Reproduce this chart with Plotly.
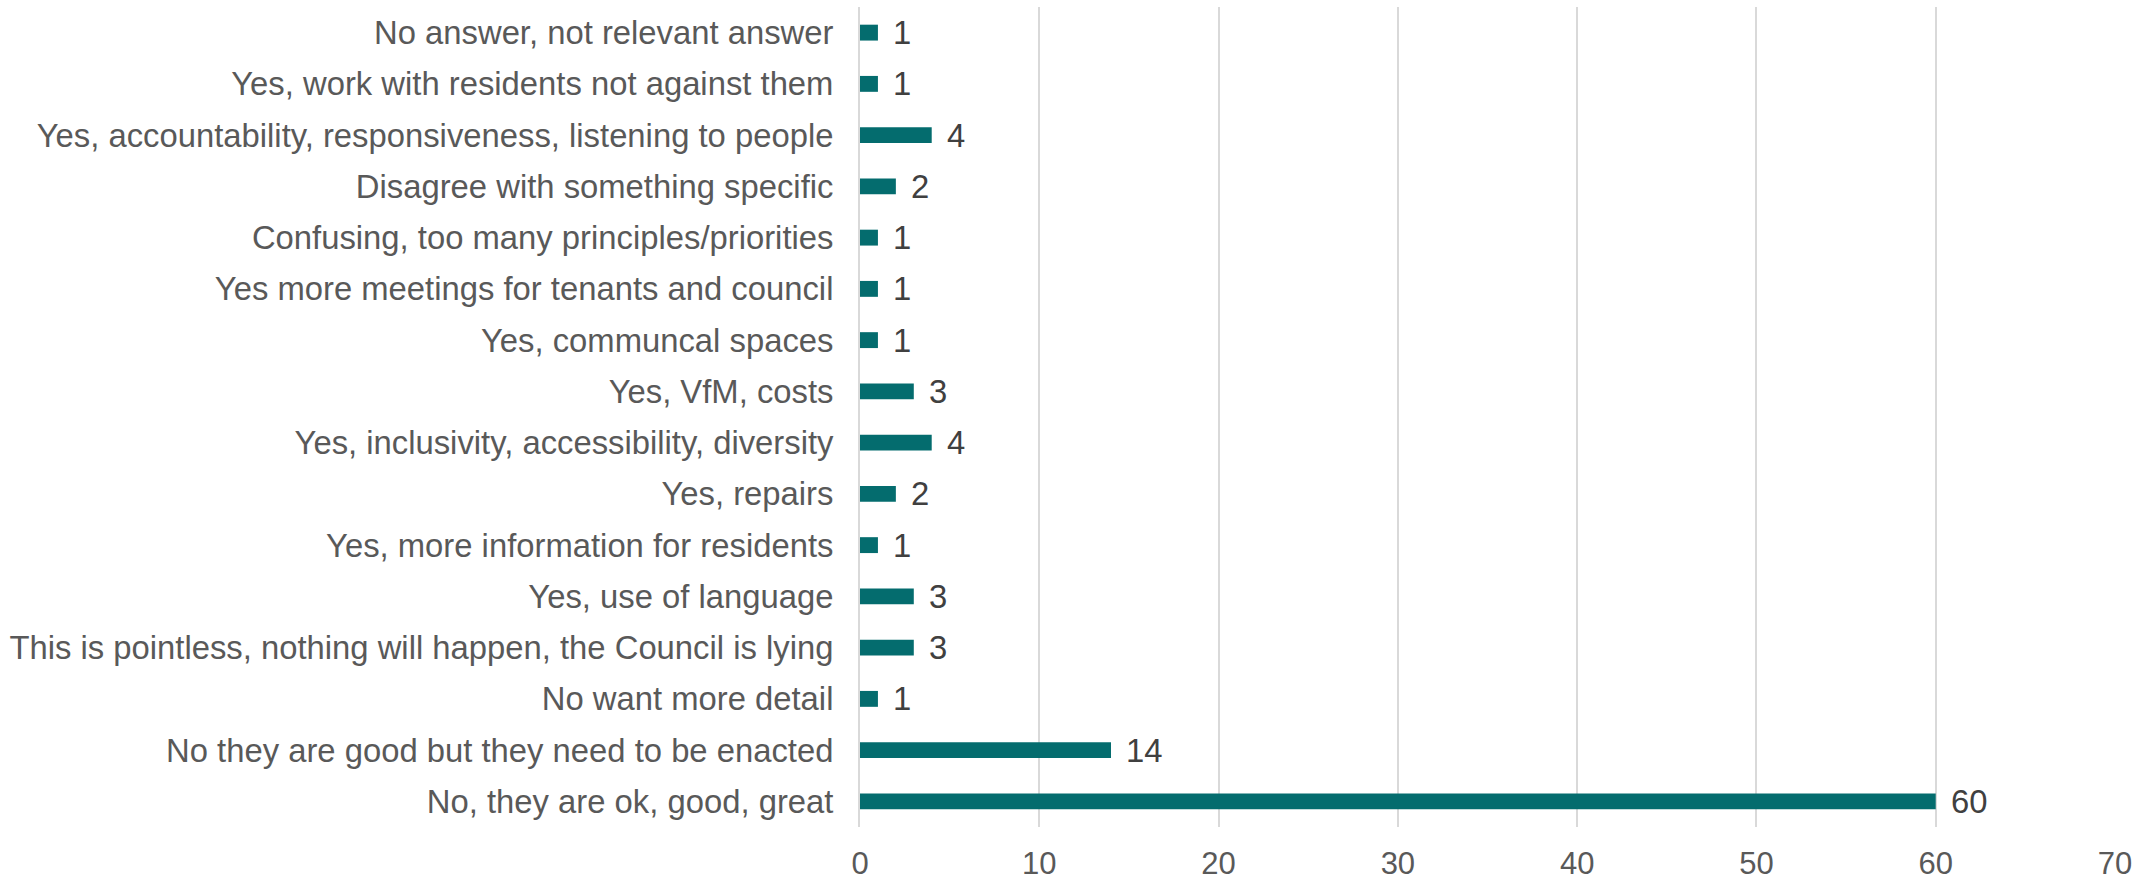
import plotly.graph_objects as go

categories = [
    "No answer, not relevant answer",
    "Yes, work with residents not against them",
    "Yes, accountability, responsiveness, listening to people",
    "Disagree with something specific",
    "Confusing, too many principles/priorities",
    "Yes more meetings for tenants and council",
    "Yes, communcal spaces",
    "Yes, VfM, costs",
    "Yes, inclusivity, accessibility, diversity",
    "Yes, repairs",
    "Yes, more information for residents",
    "Yes, use of language",
    "This is pointless, nothing will happen, the Council is lying",
    "No want more detail",
    "No they are good but they need to be enacted",
    "No, they are ok, good, great",
]
counts = [1, 1, 4, 2, 1, 1, 1, 3, 4, 2, 1, 3, 3, 1, 14, 60]
x_ticks = [0, 10, 20, 30, 40, 50, 60, 70]

FONT = "Liberation Sans, Arial, sans-serif"
BAR = "#046C6E"
FS = 32.8

fig = go.Figure()
fig.add_trace(go.Bar(
    x=counts, y=categories, orientation="h",
    marker=dict(color=BAR, line=dict(width=0)),
    width=0.31,
    hoverinfo="x+y",
))

for c, v in zip(categories, counts):
    fig.add_annotation(x=v, y=c, text=str(v), showarrow=False,
                       xanchor="left", yanchor="middle", xshift=13,
                       font=dict(family=FONT, size=FS, color="#404040"))

fig.update_layout(
    width=2151, height=882,
    margin=dict(l=860, r=36, t=7, b=55, autoexpand=False),
    paper_bgcolor="white", plot_bgcolor="white",
    showlegend=False,
    font=dict(family=FONT, size=FS, color="#595959"),
)
fig.update_xaxes(
    range=[0, 70], tickvals=x_ticks, ticktext=[str(t) for t in x_ticks],
    showgrid=True, gridcolor="#D9D9D9", gridwidth=2,
    zeroline=False, showline=False, ticks="",
    ticklabelstandoff=15, automargin=False,
    tickfont=dict(family=FONT, size=31, color="#595959"),
)
fig.update_yaxes(
    autorange="reversed", showgrid=False, zeroline=False,
    showline=True, linecolor="#D9D9D9", linewidth=2, ticks="",
    ticklabelstandoff=18, automargin=False,
    tickfont=dict(family=FONT, size=FS, color="#595959"),
)

fig.write_html("out.html", config={"displayModeBar": False},
               post_script="document.body.style.margin='0';document.body.style.padding='0';")
